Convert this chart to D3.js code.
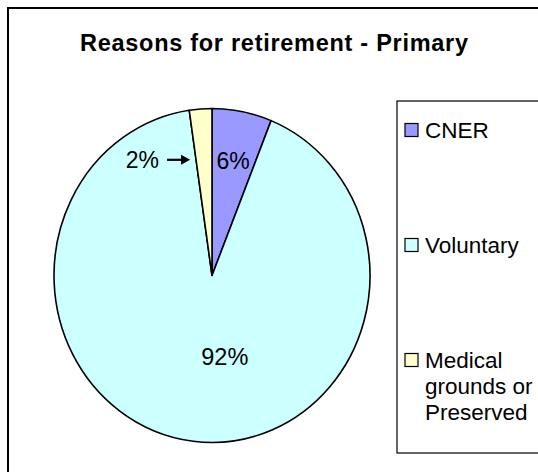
<!DOCTYPE html>
<html>
<head>
<meta charset="utf-8">
<script src="https://cdn.jsdelivr.net/npm/d3@7"></script>
<style>
  html, body { margin: 0; padding: 0; background: #fff; }
  svg { display: block; }
  text { font-family: "Liberation Sans", Arial, sans-serif; fill: #000; }
</style>
</head>
<body>
<svg id="chart" width="538" height="472"></svg>
<script>
const title = "Reasons for retirement - Primary";
const categories = ["CNER", "Voluntary", "Medical grounds or Preserved"];
const values = [6.1, 91.6, 2.3];
const legendLines = [["CNER"], ["Voluntary"], ["Medical", "grounds or", "Preserved"]];
const colors = ["#9999FF", "#CCFFFF", "#FFFFCC"];

const svg = d3.select("#chart");

// outer chart border (extends past right/bottom edge)
svg.append("rect")
  .attr("x", 8).attr("y", 8).attr("width", 560).attr("height", 500)
  .attr("fill", "#fff").attr("stroke", "#000").attr("stroke-width", 2);

// title
svg.append("text")
  .attr("x", 80).attr("y", 51)
  .attr("text-anchor", "start")
  .attr("font-weight", "bold")
  .attr("font-size", 23.5)
  .attr("textLength", 388)
  .attr("lengthAdjust", "spacing")
  .text(title);

// pie
const cx = 212, cy = 275.5, rx = 158, ry = 167;
const sy = ry / rx;
const pie = d3.pie().sort(null).value(d => d);
const arcs = pie(values);
const arc = d3.arc().innerRadius(0).outerRadius(rx);
const total = d3.sum(values);
const pct = v => Math.round(v / total * 100) + "%";

const g = svg.append("g").attr("transform", `translate(${cx},${cy}) scale(1,${sy})`);
g.selectAll("path").data(arcs).join("path")
  .attr("d", arc)
  .attr("fill", (d, i) => colors[i])
  .attr("stroke", "#000")
  .attr("stroke-width", 1.6)
  .attr("stroke-linejoin", "round")
  .attr("vector-effect", "non-scaling-stroke");

const pt = (angle, r) => [cx + r * Math.sin(angle), cy - r * Math.cos(angle) * sy];

// label for CNER (inside)
{
  const a = arcs[0];
  const [x, y] = pt((a.startAngle + a.endAngle) / 2, 0.7 * rx);
  svg.append("text").attr("x", x).attr("y", y).attr("dy", "0.35em")
    .attr("text-anchor", "middle").attr("font-size", 23).text(pct(values[0]));
}
// label for Voluntary (inside)
{
  const a = arcs[1];
  const [x, y] = pt((a.startAngle + a.endAngle) / 2, 0.49 * rx);
  svg.append("text").attr("x", x + 22).attr("y", y).attr("dy", "0.35em")
    .attr("text-anchor", "middle").attr("font-size", 23.5).text(pct(values[1]));
}
// label for Medical (outside, with arrow)
{
  const a = arcs[2];
  const [ex, ey] = pt(a.startAngle, 0.7 * rx);
  const tipX = ex - 6, tipY = ey;
  const tailX = tipX - 23;
  svg.append("line").attr("x1", tailX).attr("y1", tipY).attr("x2", tipX - 7).attr("y2", tipY)
    .attr("stroke", "#000").attr("stroke-width", 2.2);
  svg.append("path")
    .attr("d", `M${tipX},${tipY} L${tipX - 9},${tipY - 5} L${tipX - 9},${tipY + 5} Z`)
    .attr("fill", "#000");
  svg.append("text").attr("x", tailX - 8).attr("y", tipY).attr("dy", "0.35em")
    .attr("text-anchor", "end").attr("font-size", 23).text(pct(values[2]));
}

// legend
const lgX = 397, lgY = 101, lgH = 352;
svg.append("rect")
  .attr("x", lgX).attr("y", lgY).attr("width", 200).attr("height", lgH)
  .attr("fill", "#fff").attr("stroke", "#000").attr("stroke-width", 1.2);

const ly = d3.scalePoint().domain(categories).range([130, 360]);
const item = svg.selectAll("g.leg").data(categories).join("g").attr("class", "leg")
  .attr("transform", d => `translate(${lgX + 8},${ly(d)})`);
item.append("rect")
  .attr("x", 0).attr("y", -6.5).attr("width", 13).attr("height", 13)
  .attr("fill", (d, i) => colors[i]).attr("stroke", "#000").attr("stroke-width", 1.2);
item.each(function(d, i) {
  const t = d3.select(this).append("text")
    .attr("x", 20).attr("y", 0).attr("font-size", 22.5);
  legendLines[i].forEach((ln, j) => {
    t.append("tspan").attr("x", 20).attr("dy", j === 0 ? "0.36em" : "1.15em").text(ln);
  });
});
</script>
</body>
</html>
